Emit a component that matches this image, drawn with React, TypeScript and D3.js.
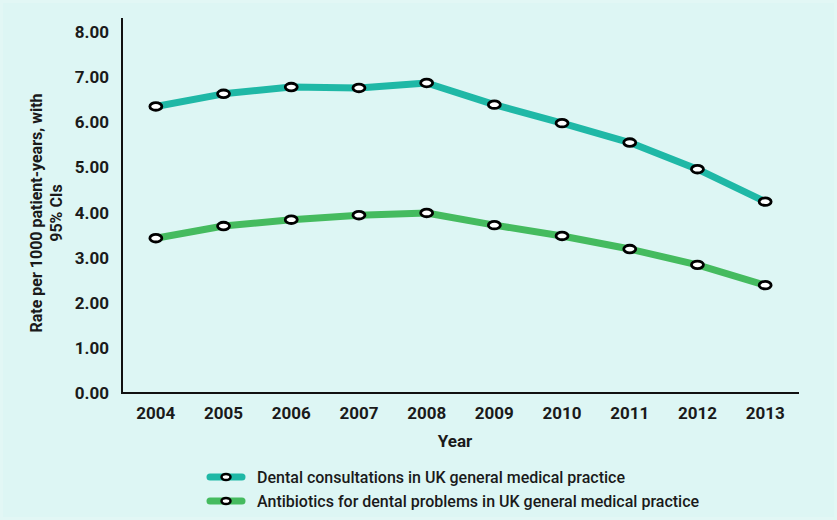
import React from "react";
import * as d3 from "d3";

const years = ["2004", "2005", "2006", "2007", "2008", "2009", "2010", "2011", "2012", "2013"];
const dentalConsultations = [6.35, 6.63, 6.78, 6.76, 6.87, 6.39, 5.98, 5.55, 4.96, 4.24];
const antibiotics = [3.43, 3.70, 3.84, 3.94, 3.99, 3.72, 3.48, 3.19, 2.84, 2.39];
const yTicks = [0, 1, 2, 3, 4, 5, 6, 7, 8];
const seriesNames = [
  "Dental consultations in UK general medical practice",
  "Antibiotics for dental problems in UK general medical practice",
];
const seriesColors = ["#1fb8a6", "#45bb5f"];

const W = 837, H = 520;
const FONT = "Roboto, 'Noto Sans', sans-serif";

export default function App() {
  const x = d3.scaleBand().domain(years).range([122, 799]).padding(0);
  const y = d3.scaleLinear().domain([0, 8]).range([393, 32]);
  const cx = (yr: string) => (x(yr) as number) + x.bandwidth() / 2;
  const line = d3.line<number>().x((_, i) => cx(years[i])).y((v) => y(v));
  const series = [dentalConsultations, antibiotics];

  return (
    <svg width={W} height={H} style={{ position: "absolute", left: 0, top: 0, fontFamily: FONT }}>
      <rect x={0} y={0} width={W} height={H} fill="#e2f7f5" />
      <rect x={3} y={3} width={W - 6} height={H - 6} fill="#ddf6f4" />
      {/* y axis */}
      <line x1={122} x2={122} y1={18} y2={394} stroke="#111" strokeWidth={2} />
      {yTicks.map((t) => (
        <text key={t} x={109} y={y(t)} textAnchor="end" dominantBaseline="central" fontSize={17} fontWeight="bold" fill="#1a1a1a">
          {t.toFixed(2)}
        </text>
      ))}
      {/* x axis */}
      <line x1={121} x2={799} y1={393} y2={393} stroke="#111" strokeWidth={2} />
      {years.map((yr) => (
        <text key={yr} x={cx(yr)} y={413} textAnchor="middle" dominantBaseline="central" fontSize={17} fontWeight="bold" fill="#1a1a1a">
          {yr}
        </text>
      ))}
      <text x={455} y={441} textAnchor="middle" dominantBaseline="central" fontSize={17} fontWeight="bold" fill="#1a1a1a">
        Year
      </text>
      <g transform="translate(36,213) rotate(-90)">
        <text x={0} y={0} textAnchor="middle" dominantBaseline="central" fontSize={16} fontWeight="bold" fill="#1a1a1a">
          Rate per 1000 patient-years, with
        </text>
        <text x={0} y={20} textAnchor="middle" dominantBaseline="central" fontSize={16} fontWeight="bold" fill="#1a1a1a">
          95% CIs
        </text>
      </g>
      {series.map((s, si) => (
        <g key={si}>
          <path d={line(s) || ""} fill="none" stroke={seriesColors[si]} strokeWidth={7} strokeLinejoin="round" />
          {s.map((v, i) => (
            <ellipse key={i} cx={cx(years[i])} cy={y(v)} rx={6} ry={3.8} fill="#fff" stroke="#000" strokeWidth={2.8} />
          ))}
        </g>
      ))}
      {/* legend */}
      {seriesNames.map((n, i) => (
        <g key={n} transform={`translate(0,${477 + i * 24})`}>
          <line x1={210} x2={242} y1={0} y2={0} stroke={seriesColors[i]} strokeWidth={7} strokeLinecap="round" />
          <ellipse cx={226} cy={0} rx={4.5} ry={3} fill="#fff" stroke="#000" strokeWidth={2.5} />
          <text x={257} y={0} dominantBaseline="central" fontSize={16} fill="#1a1a1a" fontWeight={500}>
            {n}
          </text>
        </g>
      ))}
    </svg>
  );
}
